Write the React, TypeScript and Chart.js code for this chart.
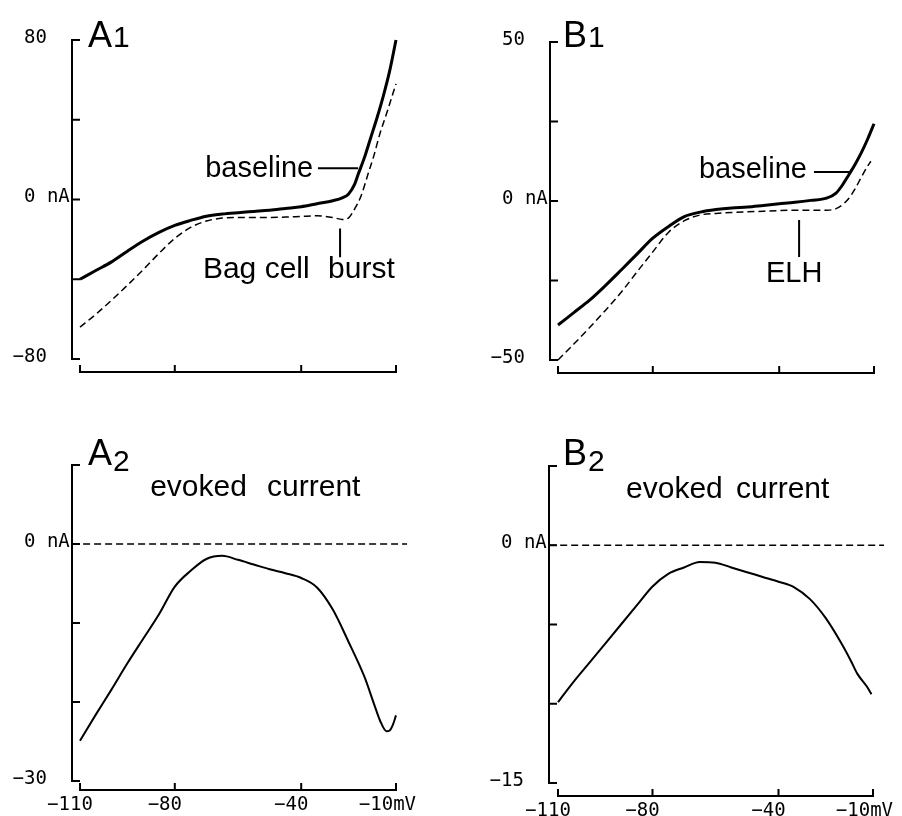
import React, { useEffect, useRef } from "react";
import { Chart, registerables } from "chart.js";

Chart.register(...registerables);

// ---------------- data (membrane potential in mV, current in nA) ----------------
const A1_BASELINE_MV = [-110, -105, -100, -95, -90, -85, -80, -75, -70, -65, -60, -55, -50, -45, -40, -35, -30, -27, -25, -23, -22, -20, -18, -16, -14, -12, -10];
const A1_BASELINE_NA = [-40, -35.6, -31.3, -25.9, -20.8, -16.5, -13, -10.5, -8.4, -7.3, -6.6, -6, -5.4, -4.5, -3.6, -2.1, -0.6, 0.8, 2.8, 8, 12.5, 21, 31, 41, 52, 64.5, 80];
const A1_BURST_MV = [-110, -105, -100, -95, -90, -85, -80, -75, -70, -65, -60, -55, -50, -45, -40, -35, -30, -27, -25, -23, -21, -19, -17, -15, -13, -11, -10];
const A1_BURST_NA = [-64, -57.6, -50.5, -43, -35.2, -27, -19.5, -14, -10.8, -9.3, -9, -9, -9, -8.8, -8.5, -8.2, -9, -10, -9.2, -4.5, 2, 12, 22, 33.5, 43, 53, 58];

const B1_BASELINE_MV = [-110, -105, -100, -95, -90, -85, -80, -75, -70, -65, -60, -55, -50, -45, -40, -35, -30, -25, -22, -20, -18, -16, -14, -12, -10];
const B1_BASELINE_NA = [-39, -35.1, -31.2, -26.6, -21.7, -16.7, -11.7, -8, -4.9, -3.5, -2.7, -2.2, -1.9, -1.4, -0.9, -0.4, 0.2, 0.9, 2.5, 5, 8.2, 11.5, 15.2, 19.5, 24.3];
const B1_ELH_MV = [-110, -105, -100, -95, -90, -85, -80, -75, -70, -65, -60, -55, -50, -45, -40, -35, -30, -25, -22, -20, -18, -16, -14, -12, -11];
const B1_ELH_NA = [-50, -45, -39.8, -34.4, -28.7, -22.3, -16, -9.8, -6.2, -4.4, -3.9, -3.6, -3.4, -3.2, -3, -2.9, -2.9, -2.9, -2.4, -1.2, 0.8, 3.8, 7.5, 11, 12.5];

const A2_EVOKED_MV = [-110, -105, -100, -95, -90, -85, -80, -75, -70, -65, -60, -55, -50, -45, -40, -35, -30, -25, -20, -17, -15, -13, -12, -11, -10];
const A2_EVOKED_NA = [-24.9, -21.6, -18.4, -15.1, -12, -8.9, -5.4, -3.4, -1.9, -1.5, -2, -2.6, -3.2, -3.7, -4.3, -5.5, -8.3, -12.4, -16.8, -20.2, -22.4, -23.7, -23.6, -22.9, -21.7];

const B2_EVOKED_MV = [-110, -108.5, -105, -100, -95, -90, -85, -80, -75, -70, -65, -60, -55, -50, -45, -40, -35, -30, -25, -20, -17, -15, -12, -10.5];
const B2_EVOKED_NA = [-9.9, -9.5, -8.6, -7.4, -6.2, -5, -3.8, -2.6, -1.8, -1.4, -1.05, -1.1, -1.4, -1.7, -2, -2.3, -2.65, -3.4, -4.6, -6.2, -7.3, -8.1, -8.9, -9.4];

// zero-current reference lines (evoked panels)
const A2_ZERO_MV = [-112.5, -6.5];
const B2_ZERO_MV = [-112.8, -6.5];
const ZERO_NA = [0, 0];

// ---------------- axes ----------------
const X_TICKS = [-110, -80, -40, -10];
const X_TICK_LABELS = ["\u2212110", "\u221280", "\u221240", "\u221210"];
const X_UNIT = "mV";

const A1_Y_TICKS = [80, 40, 0, -40, -80];
const A1_Y_LABEL_VALUES = [80, 0, -80];
const A1_Y_LABELS = ["80", "0 nA", "\u221280"];

const B1_Y_TICKS = [50, 25, 0, -25, -50];
const B1_Y_LABEL_VALUES = [50, 0, -50];
const B1_Y_LABELS = ["50", "0 nA", "\u221250"];

const A2_Y_TICKS = [10, 0, -10, -20, -30];
const A2_Y_LABEL_VALUES = [0, -30];
const A2_Y_LABELS = ["0 nA", "\u221230"];

const B2_Y_TICKS = [5, 0, -5, -10, -15];
const B2_Y_LABEL_VALUES = [0, -15];
const B2_Y_LABELS = ["0 nA", "\u221215"];

const SANS = "'Liberation Sans', Arial, Helvetica, sans-serif";
const MONO = "'DejaVu Sans Mono', 'Liberation Mono', monospace";

const pts = (xs: number[], ys: number[]) => xs.map((x, i) => ({ x, y: ys[i] }));

type Deco = {
  yGap: number;
  xGap: number;
  yTicks: number[];
  yLabelValues: number[];
  yLabels: string[];
  xTicks: number[];
  xLabels?: string[];
  letter: { x: number; y: number; main: string; sub: string; subDy: number };
  texts: { t: string; x: number; y: number; size: number }[];
  lines: { x1: number; y1: number; x2: number; y2: number }[];
};

function makePlugin(d: Deco) {
  return {
    id: "sciAxes",
    beforeDatasetsDraw(chart: any) {
      const ctx = chart.ctx;
      const xs = chart.scales.x;
      const ys = chart.scales.y;
      const ca = chart.chartArea;
      ctx.save();
      ctx.strokeStyle = "#000";
      ctx.fillStyle = "#000";
      ctx.lineWidth = 2;
      ctx.lineCap = "butt";
      // y axis
      const ax = ca.left - d.yGap;
      const yTop = ys.getPixelForValue(d.yTicks[0]);
      const yBot = ys.getPixelForValue(d.yTicks[d.yTicks.length - 1]);
      ctx.beginPath();
      ctx.moveTo(ax, yTop - 1);
      ctx.lineTo(ax, yBot + 1);
      for (const v of d.yTicks) {
        const py = ys.getPixelForValue(v);
        ctx.moveTo(ax, py);
        ctx.lineTo(ax + 8, py);
      }
      // x axis
      const ay = ca.bottom + d.xGap;
      const x0 = xs.getPixelForValue(d.xTicks[0]);
      const x1 = xs.getPixelForValue(d.xTicks[d.xTicks.length - 1]);
      ctx.moveTo(x0 - 1, ay);
      ctx.lineTo(x1 + 1, ay);
      for (const v of d.xTicks) {
        const px = xs.getPixelForValue(v);
        ctx.moveTo(px, ay);
        ctx.lineTo(px, ay - 7);
      }
      ctx.stroke();

      // y tick labels (digits aligned in one column, minus hanging left)
      ctx.font = "19px " + MONO;
      ctx.textBaseline = "middle";
      ctx.textAlign = "left";
      const col = ax - 48;
      d.yLabelValues.forEach((v, i) => {
        const txt = d.yLabels[i];
        const py = ys.getPixelForValue(v) - 2;
        let left = col;
        if (txt.startsWith("\u2212")) left -= ctx.measureText("\u2212").width;
        ctx.fillText(txt, left, py);
      });

      // x tick labels
      if (d.xLabels) {
        d.xTicks.forEach((v, i) => {
          const num = d.xLabels![i];
          const isLast = i === d.xTicks.length - 1;
          const w = ctx.measureText(num).width;
          const px = xs.getPixelForValue(v);
          const left = px - 10 - w / 2 - (isLast ? 10 : 0);
          ctx.fillText(isLast ? num + X_UNIT : num, left, ay + 15);
        });
      }
      ctx.restore();
    },
    afterDatasetsDraw(chart: any) {
      const ctx = chart.ctx;
      const xs = chart.scales.x;
      const ys = chart.scales.y;
      ctx.save();
      ctx.fillStyle = "#000";
      ctx.strokeStyle = "#000";
      ctx.textAlign = "left";
      ctx.textBaseline = "alphabetic";
      // panel letter with subscript
      const L = d.letter;
      const lx = xs.getPixelForValue(L.x);
      const ly = ys.getPixelForValue(L.y);
      ctx.font = "36px " + SANS;
      ctx.fillText(L.main, lx, ly);
      const lw = ctx.measureText(L.main).width;
      ctx.font = "30px " + SANS;
      ctx.fillText(L.sub, lx + lw + 1, ly + L.subDy);
      // annotations
      for (const t of d.texts) {
        ctx.font = t.size + "px " + SANS;
        ctx.fillText(t.t, xs.getPixelForValue(t.x), ys.getPixelForValue(t.y));
      }
      ctx.lineWidth = 2;
      ctx.beginPath();
      for (const l of d.lines) {
        ctx.moveTo(xs.getPixelForValue(l.x1), ys.getPixelForValue(l.y1));
        ctx.lineTo(xs.getPixelForValue(l.x2), ys.getPixelForValue(l.y2));
      }
      ctx.stroke();
      ctx.restore();
    },
  };
}

type PanelDef = {
  left: number;
  top: number;
  pad: { left: number; right: number; top: number; bottom: number };
  yMin: number;
  yMax: number;
  datasets: any[];
  deco: Deco;
};

const baseLine = {
  borderColor: "#000",
  pointRadius: 0,
  cubicInterpolationMode: "monotone",
  fill: false,
  clip: false,
};
const solidThick = (data: any[]) => ({ ...baseLine, data, borderWidth: 3 });
const dashed = (data: any[]) => ({ ...baseLine, data, borderWidth: 1.5, borderDash: [7, 4] });
const solidThin = (data: any[]) => ({ ...baseLine, data, borderWidth: 2 });

const PANELS: PanelDef[] = [
  {
    left: 0,
    top: 0,
    pad: { left: 80, right: 55, top: 40, bottom: 49 },
    yMin: -80,
    yMax: 80,
    datasets: [solidThick(pts(A1_BASELINE_MV, A1_BASELINE_NA)), dashed(pts(A1_BURST_MV, A1_BURST_NA))],
    deco: {
      yGap: 8,
      xGap: 13,
      yTicks: A1_Y_TICKS,
      yLabelValues: A1_Y_LABEL_VALUES,
      yLabels: A1_Y_LABELS,
      xTicks: X_TICKS,
      letter: { x: -107.5, y: 76.7, main: "A", sub: "1", subDy: 0 },
      texts: [
        { t: "baseline", x: -70.4, y: 11.5, size: 29 },
        { t: "Bag cell", x: -71.1, y: -39.6, size: 30 },
        { t: "burst", x: -31.5, y: -39.6, size: 30 },
      ],
      lines: [
        { x1: -34.7, y1: 15.7, x2: -22, y2: 15.7 },
        { x1: -27.7, y1: -14.5, x2: -27.7, y2: -29 },
      ],
    },
  },
  {
    left: 451,
    top: 0,
    pad: { left: 107, right: 28, top: 42, bottom: 48 },
    yMin: -50,
    yMax: 50,
    datasets: [solidThick(pts(B1_BASELINE_MV, B1_BASELINE_NA)), dashed(pts(B1_ELH_MV, B1_ELH_NA))],
    deco: {
      yGap: 8,
      xGap: 13,
      yTicks: B1_Y_TICKS,
      yLabelValues: B1_Y_LABEL_VALUES,
      yLabels: B1_Y_LABELS,
      xTicks: X_TICKS,
      letter: { x: -108.4, y: 48.4, main: "B", sub: "1", subDy: 0 },
      texts: [
        { t: "baseline", x: -65.4, y: 7.2, size: 29 },
        { t: "ELH", x: -44.2, y: -25.5, size: 29 },
      ],
      lines: [
        { x1: -29, y1: 9.1, x2: -17.9, y2: 9.1 },
        { x1: -33.7, y1: -6, x2: -33.7, y2: -17.6 },
      ],
    },
  },
  {
    left: 0,
    top: 408,
    pad: { left: 80, right: 55, top: 57, bottom: 35 },
    yMin: -30,
    yMax: 10,
    datasets: [dashed(pts(A2_ZERO_MV, ZERO_NA)), solidThin(pts(A2_EVOKED_MV, A2_EVOKED_NA))],
    deco: {
      yGap: 8,
      xGap: 9,
      yTicks: A2_Y_TICKS,
      yLabelValues: A2_Y_LABEL_VALUES,
      yLabels: A2_Y_LABELS,
      xTicks: X_TICKS,
      xLabels: X_TICK_LABELS,
      letter: { x: -107.5, y: 10, main: "A", sub: "2", subDy: 6 },
      texts: [
        { t: "evoked", x: -87.8, y: 6.1, size: 30 },
        { t: "current", x: -50.8, y: 6.1, size: 30 },
      ],
      lines: [],
    },
  },
  {
    left: 451,
    top: 408,
    pad: { left: 107, right: 29, top: 58, bottom: 33 },
    yMin: -15,
    yMax: 5,
    datasets: [dashed(pts(B2_ZERO_MV, ZERO_NA)), solidThin(pts(B2_EVOKED_MV, B2_EVOKED_NA))],
    deco: {
      yGap: 9,
      xGap: 13,
      yTicks: B2_Y_TICKS,
      yLabelValues: B2_Y_LABEL_VALUES,
      yLabels: B2_Y_LABELS,
      xTicks: X_TICKS,
      xLabels: X_TICK_LABELS,
      letter: { x: -108.4, y: 5.06, main: "B", sub: "2", subDy: 6 },
      texts: [
        { t: "evoked", x: -88.4, y: 2.97, size: 30 },
        { t: "current", x: -53.5, y: 2.97, size: 30 },
      ],
      lines: [],
    },
  },
];

function Panel({ def }: { def: PanelDef }) {
  const ref = useRef<HTMLCanvasElement | null>(null);
  useEffect(() => {
    if (!ref.current) return;
    const chart = new Chart(ref.current, {
      type: "line",
      data: { datasets: def.datasets },
      options: {
        responsive: false,
        animation: false,
        devicePixelRatio: 1,
        events: [],
        layout: { padding: def.pad },
        plugins: { legend: { display: false }, tooltip: { enabled: false } },
        scales: {
          x: { type: "linear", min: -110, max: -10, display: false },
          y: { type: "linear", min: def.yMin, max: def.yMax, display: false },
        },
      },
      plugins: [makePlugin(def.deco)],
    } as any);
    return () => chart.destroy();
  }, [def]);
  return (
    <canvas
      ref={ref}
      width={451}
      height={408}
      style={{ position: "absolute", left: def.left, top: def.top, width: 451, height: 408 }}
    />
  );
}

export default function App() {
  return (
    <div style={{ position: "absolute", left: 0, top: 0, width: 902, height: 816, background: "#fff", overflow: "hidden" }}>
      {PANELS.map((p, i) => (
        <Panel key={i} def={p} />
      ))}
    </div>
  );
}
